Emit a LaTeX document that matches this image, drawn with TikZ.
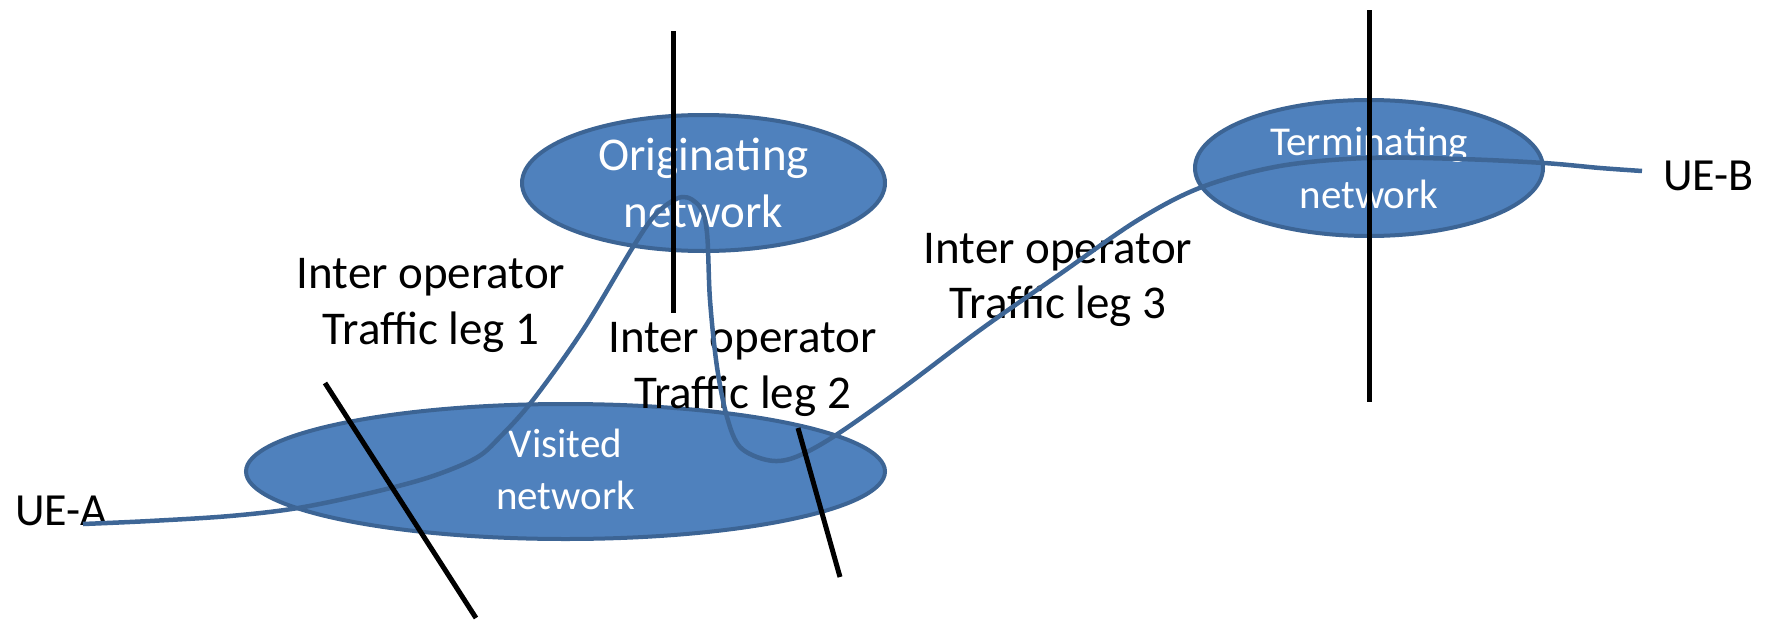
\documentclass[tikz,border=0pt]{standalone}
\usepackage{fontspec}
\setmainfont{Carlito}
\definecolor{netfill}{HTML}{4F81BD}
\definecolor{netedge}{HTML}{3C6494}
\definecolor{curveblue}{HTML}{3E6696}
\tikzset{
  net/.style={ellipse, draw=netedge, fill=netfill, line width=4pt, inner sep=0pt},
  nettext/.style={text=white, align=center, inner sep=0pt},
  biglabel/.style={align=center, inner sep=0pt, font=\fontsize{47}{56}\selectfont},
  uelabel/.style={inner sep=0pt, anchor=base west, font=\fontsize{46}{55}\selectfont},
  cut/.style={line width=5pt, black},
  traffic/.style={line width=4.5pt, curveblue},
}
\usetikzlibrary{shapes.geometric}
\begin{document}
\begin{tikzpicture}[x=1pt,y=-1pt]
\useasboundingbox (0,0) rectangle (1770,621);
% networks
\node[net, minimum width=363pt, minimum height=136pt] (orig) at (703.5,183) {};
\node[net, minimum width=639pt, minimum height=135pt] (visit) at (565.5,471.5) {};
\node[net, minimum width=348pt, minimum height=136pt] (term) at (1369,168) {};
% network names
\node[nettext, font=\fontsize{47}{57}\selectfont] (origtxt) at (703.5,183) {Originating\\network};
\node[nettext, font=\fontsize{41}{52}\selectfont] (visittxt) at (565.5,469.5) {Visited\\network};
\node[nettext, font=\fontsize{41}{53}\selectfont] (termtxt) at (1369,167.5) {Terminating\\network};
% leg labels
\node[biglabel] (leg1) at (431,305) {Inter operator\\Traffic leg 1};
\node[biglabel] (leg2) at (742.5,369.5) {Inter operator\\Traffic leg 2};
\node[biglabel, font=\fontsize{47}{55}\selectfont] (leg3) at (1058,279.5) {Inter operator\\Traffic leg 3};
% UE labels
\node[uelabel] (uea) at (15,525) {UE-A};
\node[uelabel] (ueb) at (1663,190) {UE-B};
% traffic curve
\coordinate (uea-end) at (83,524);
\coordinate (ueb-end) at (1642,171);
\draw[traffic] plot[smooth, tension=0.55] coordinates {(uea-end) (150,521) (230,516) (298,508) (370,493) (430,477) (476,458) (500,437) (533,400) (583,330) (633,247) (657,213) (682,197) (700,207) (707,233) (710,300) (717,367) (727,417) (740,447) (767,460) (793,458) (833,437) (900,390) (980,330) (1060,274) (1138,220) (1202,187) (1280,166) (1367,158) (1460,159) (1544,163) (1600,168) (ueb-end)};
% cut lines
\coordinate (c1a) at (325,383);
\coordinate (c1b) at (476,618);
\coordinate (c2a) at (798,428);
\coordinate (c2b) at (840,577);
\coordinate (c3a) at (673,31);
\coordinate (c3b) at (673,313);
\coordinate (c4a) at (1369,10);
\coordinate (c4b) at (1369,402);
\draw[cut] (c1a) -- (c1b);
\draw[cut] (c2a) -- (c2b);
\draw[cut] (c3a) -- (c3b);
\draw[cut] (c4a) -- (c4b);
\end{tikzpicture}
\end{document}
